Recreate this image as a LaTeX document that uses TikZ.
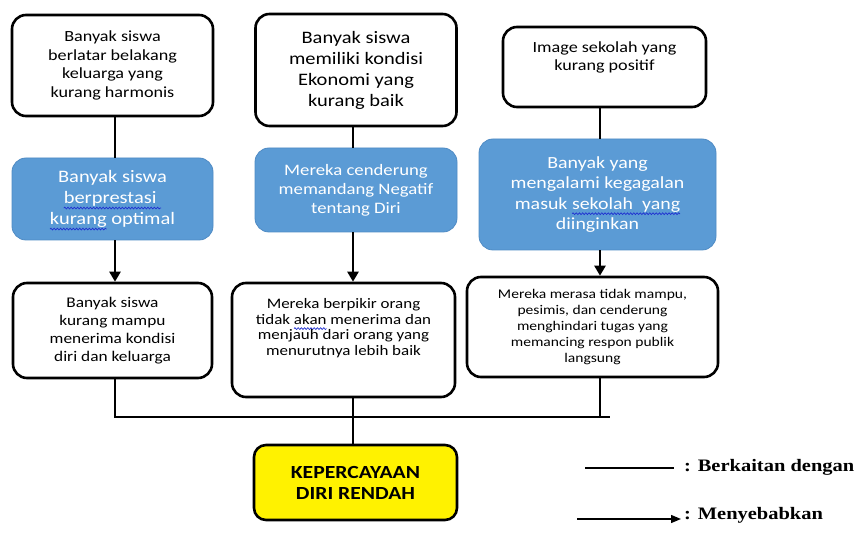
\documentclass[tikz,border=0pt]{standalone}
\usepackage{fontspec}
\setmainfont{Carlito}[FakeStretch=1.17]
\newfontfamily\legfont{Liberation Serif}[FakeStretch=1.17]
\usetikzlibrary{arrows.meta,decorations.pathmorphing}
\definecolor{boxblue}{HTML}{5B9BD5}
\definecolor{boxblueedge}{HTML}{4F8BC4}
\definecolor{spellblue}{HTML}{2030D0}
\newcommand\wv[1]{\setbox0\hbox{#1}\leavevmode\rlap{\tikz[baseline=0pt,overlay,sharp corners]\draw[spellblue,sharp corners,line width=0.7pt,decorate,decoration={snake,amplitude=0.9pt,segment length=3.2pt}] (0pt,-4.5pt) -- (\wd0,-4.5pt);}\box0 }
\tikzset{
  wbox/.style={draw=black, line width=2.6pt, rounded corners=14pt, fill=white, align=center, inner sep=0pt},
  bbox/.style={draw=boxblueedge, line width=0.8pt, rounded corners=14pt, fill=boxblue, text=white, align=center, inner sep=0pt},
  ybox/.style={draw=black, line width=2.6pt, rounded corners=12pt, fill=yellow, align=center, inner sep=0pt},
  link/.style={line width=2.4pt},
  cause/.style={line width=2.4pt, -{Triangle[width=11pt,length=10pt]}},
  legline/.style={line width=1.3pt},
  legarrow/.style={line width=1.3pt, -{Triangle[width=8pt,length=10pt]}},
  legtext/.style={font=\legfont\bfseries\fontsize{17.5}{20}\selectfont, anchor=west, inner sep=0pt}
}
\begin{document}
\begin{tikzpicture}[x=1pt,y=-1pt]
\fill[white] (0,0) rectangle (860,537);
\useasboundingbox (0,0) rectangle (860,537);

\coordinate (colA) at (115,0);
\coordinate (colB) at (353,0);
\coordinate (colC) at (600,0);
\coordinate (busL) at (115,417);
\coordinate (busR) at (610,417);

% top row
\node[wbox, minimum width=201pt, minimum height=101pt, font=\fontsize{15.5}{18.5}\selectfont] (A1) at (112.5,65.5)
  {Banyak siswa\\berlatar belakang\\keluarga yang\\kurang harmonis};
\node[wbox, minimum width=201pt, minimum height=112pt, font=\fontsize{17.5}{21}\selectfont] (B1) at (356,70)
  {Banyak siswa\\memiliki kondisi\\Ekonomi yang\\kurang baik};
\node[wbox, minimum width=203pt, minimum height=80pt, font=\fontsize{15.5}{18.5}\selectfont] (C1) at (604.5,67)
  {Image sekolah yang\\kurang positif\\[3pt]};

% blue row
\node[bbox, minimum width=201pt, minimum height=82pt, font=\fontsize{17.5}{21}\selectfont] (A2) at (112.5,199)
  {Banyak siswa\\\wv{berprestasi\ }\\\wv{kurang} optimal};
\node[bbox, minimum width=202pt, minimum height=84pt, font=\fontsize{16}{19}\selectfont] (B2) at (356,190)
  {Mereka cenderung\\memandang Negatif\\tentang Diri};
\node[bbox, minimum width=237pt, minimum height=111pt, font=\fontsize{17}{20.5}\selectfont] (C2) at (597.5,194.5)
  {Banyak yang\\mengalami kegagalan\\masuk \wv{sekolah\ \ yang}\\diinginkan};

% third row
\node[wbox, minimum width=199pt, minimum height=95pt, font=\fontsize{14.8}{18}\selectfont] (A3) at (112.5,330.5)
  {Banyak siswa\\kurang mampu\\menerima kondisi\\diri dan keluarga};
\node[wbox, minimum width=223pt, minimum height=114pt] (B3) at (343.5,340) {};
\node[align=center, inner sep=0pt, font=\fontsize{14.5}{15.5}\selectfont, yshift=12pt] (B3text) at (B3.center)
  {Mereka berpikir orang\\tidak \wv{akan} menerima dan\\menjauh dari orang yang\\menurutnya lebih baik};
\node[wbox, minimum width=251pt, minimum height=100pt, font=\fontsize{13.3}{16}\selectfont] (C3) at (592.5,327)
  {Mereka merasa tidak mampu,\\pesimis, dan cenderung\\menghindari tugas yang\\memancing respon publik\\langsung};

% result
\node[ybox, minimum width=203pt, minimum height=75pt, font=\bfseries\fontsize{18.5}{21}\selectfont] (Y) at (355.5,482.5)
  {KEPERCAYAAN\\DIRI RENDAH};

% connectors
\draw[link]  (A1.south -| colA) -- (A2.north -| colA);
\draw[cause] (A2.south -| colA) -- (A3.north -| colA);
\draw[link]  (B1.south -| colB) -- (B2.north -| colB);
\draw[cause] (B2.south -| colB) -- (B3.north -| colB);
\draw[link]  (C1.south -| colC) -- (C2.north -| colC);
\draw[cause] (C2.south -| colC) -- (C3.north -| colC);

\draw[link] (A3.south -| colA) -- (busL) -- (busR);
\draw[link] (C3.south -| colC) -- (busR -| colC);
\draw[link] (B3.south -| colB) -- (Y.north -| colB);

% legend
\coordinate (legL1) at (585,468);
\coordinate (legR1) at (674,468);
\coordinate (legL2) at (577,519);
\coordinate (legR2) at (681,519);
\draw[legline] (legL1) -- (legR1);
\draw[legarrow] (legL2) -- (legR2);
\node[legtext] (leg1) at (684,467) {: Berkaitan dengan};
\node[legtext] (leg2) at (684,515) {: Menyebabkan};
\end{tikzpicture}
\end{document}
